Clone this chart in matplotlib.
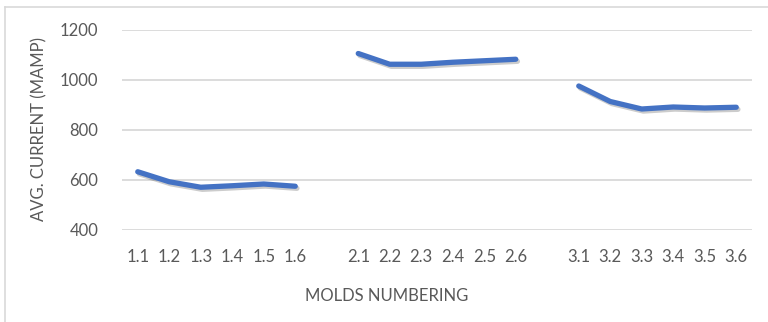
import numpy as np
import matplotlib
matplotlib.use("Agg")
import matplotlib.pyplot as plt
import matplotlib.patheffects as pe
from matplotlib.lines import Line2D

# data
group1_labels = ["1.1", "1.2", "1.3", "1.4", "1.5", "1.6"]
group1_values = [633, 593, 571, 577, 584, 575]
group2_labels = ["2.1", "2.2", "2.3", "2.4", "2.5", "2.6"]
group2_values = [1106, 1063, 1063, 1071, 1077, 1083]
group3_labels = ["3.1", "3.2", "3.3", "3.4", "3.5", "3.6"]
group3_values = [976, 914, 884, 892, 888, 891]

# excel-style: one blank category between the groups
labels = group1_labels + [""] + group2_labels + [""] + group3_labels
values = group1_values + [np.nan] + group2_values + [np.nan] + group3_values
x = np.arange(len(labels))

plt.rcParams['font.family'] = ['Lato', 'DejaVu Sans']
txt = "#595959"
grid = "#d9d9d9"

fig = plt.figure(figsize=(7.68, 3.22), dpi=100)
ax = fig.add_axes([122/768, 1-230/322, (752-122)/768, 200/322])

ax.plot(x, values, color="#4472C4", lw=3.8, solid_capstyle="round",
        solid_joinstyle="round",
        path_effects=[pe.SimpleLineShadow(offset=(1.2, -1.5), shadow_color="black", alpha=0.2),
                      pe.Normal()])

ax.set_xlim(-0.5, len(labels)-0.5)
ax.set_ylim(400, 1200)
ax.set_yticks([400, 600, 800, 1000, 1200])
ax.set_xticks(x)
ax.set_xticklabels(labels)
ax.yaxis.grid(True, color=grid, lw=1.3)
ax.set_axisbelow(True)
for s in ax.spines.values():
    s.set_visible(False)
ax.tick_params(axis="both", length=0, labelsize=12, colors=txt)
ax.tick_params(axis="y", pad=17)
ax.tick_params(axis="x", pad=14)

fig.text(39/768, 1-129/322, "AVG. CURRENT (MAMP)", rotation=90, ha="center", va="center",
         fontsize=12, color=txt)
fig.text(387/768, 1-296/322, "MOLDS NUMBERING", ha="center", va="center",
         fontsize=12, color=txt)

# chart area border (top and left visible)
fig.add_artist(Line2D([5/768, 1], [1-7/322, 1-7/322], color=grid, lw=1.2))
fig.add_artist(Line2D([5/768, 5/768], [0, 1-7/322], color=grid, lw=1.2))

fig.savefig("out.png", dpi=100)
